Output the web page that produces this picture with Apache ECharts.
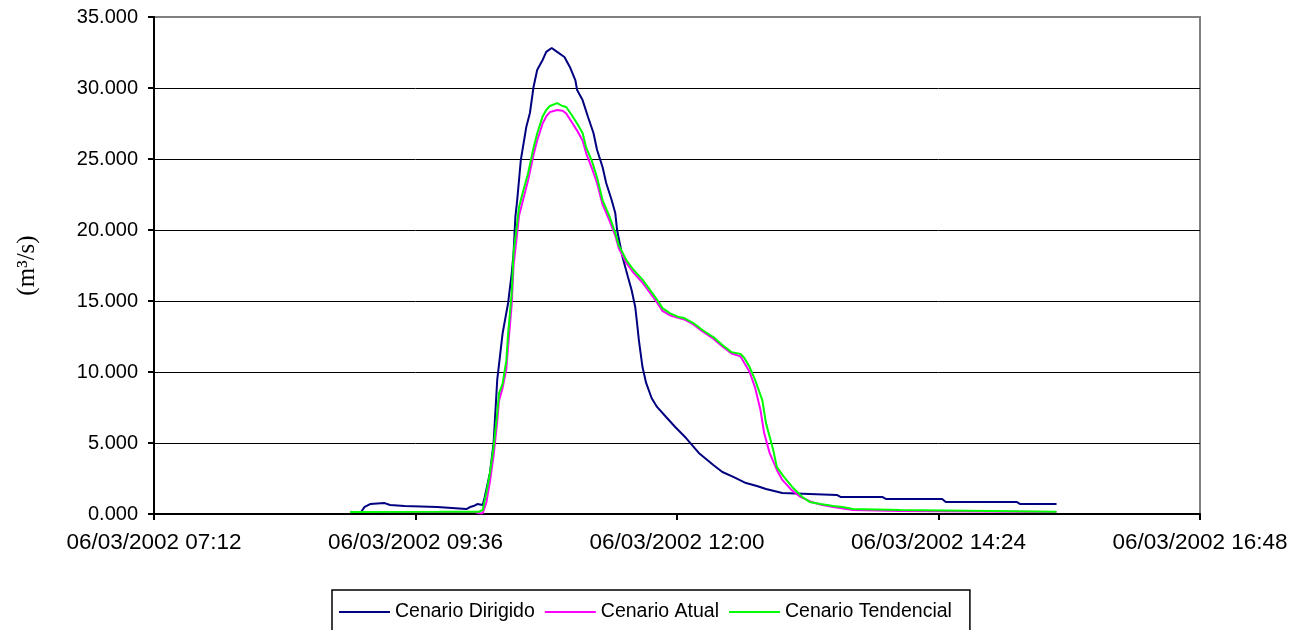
<!DOCTYPE html>
<html>
<head>
<meta charset="utf-8" />
<title>Vazões</title>
<script src="https://cdn.jsdelivr.net/npm/echarts@6/dist/echarts.min.js"></script>
<style>
  html, body { margin: 0; padding: 0; background: #fff; }
  #lineChart { width: 1298px; height: 630px; }
</style>
</head>
<body>
<div id="lineChart"></div>
<script>
// [hora, vazão]
const dirigido = [
  ["09:00", 0.14], ["09:06", 0.14], ["09:08", 0.5], ["09:11", 0.7], ["09:12", 0.77],
  ["09:19", 0.77], ["09:22", 0.63], ["09:30", 0.56], ["09:31", 0.49], ["09:48", 0.49],
  ["09:49", 0.35], ["10:04", 0.35], ["10:06", 0.49], ["10:08", 0.56], ["10:10", 0.7],
  ["10:11", 0.56], ["10:13", 0.63], ["10:14", 1.13], ["10:17", 2.89], ["10:19", 5.0],
  ["10:21", 9.44], ["10:24", 12.75], ["10:27", 14.86], ["10:29", 16.97], ["10:30", 18.38],
  ["10:31", 20.92], ["10:32", 22.11], ["10:34", 24.93], ["10:37", 27.25], ["10:39", 28.24],
  ["10:41", 30.07], ["10:43", 31.27], ["10:46", 31.97], ["10:48", 32.54], ["10:51", 32.82],
  ["10:54", 32.54], ["10:58", 32.18], ["11:01", 31.48], ["11:04", 30.56], ["11:05", 29.86],
  ["11:08", 29.15], ["11:11", 27.96], ["11:14", 26.83], ["11:16", 25.63], ["11:19", 24.44],
  ["11:21", 23.31], ["11:24", 22.11], ["11:26", 21.2], ["11:27", 20.0], ["11:30", 18.1],
  ["11:33", 16.69], ["11:35", 15.77], ["11:37", 14.58], ["11:38", 13.45], ["11:39", 12.25],
  ["11:41", 10.35], ["11:43", 9.23], ["11:46", 8.17], ["11:49", 7.54], ["11:54", 6.83],
  ["11:59", 6.13], ["12:05", 5.35], ["12:12", 4.3], ["12:20", 3.45], ["12:25", 2.96],
  ["12:31", 2.61], ["12:38", 2.18], ["12:44", 1.97], ["12:49", 1.76], ["12:58", 1.48],
  ["13:28", 1.34], ["13:30", 1.2], ["13:53", 1.2], ["13:55", 1.06], ["14:26", 1.06],
  ["14:28", 0.85], ["15:07", 0.85], ["15:09", 0.7], ["15:29", 0.7]
];

const atual = [
  ["09:00", 0.14], ["10:09", 0.14], ["10:11", 0.05], ["10:13", 0.05], ["10:14", 0.16],
  ["10:15", 0.8], ["10:17", 2.3], ["10:19", 4.1], ["10:21", 6.5], ["10:22", 8.0],
  ["10:24", 8.9], ["10:26", 10.2], ["10:27", 11.8], ["10:29", 14.8], ["10:30", 17.5],
  ["10:32", 19.8], ["10:33", 21.0], ["10:35", 22.0], ["10:38", 23.5], ["10:41", 25.3],
  ["10:43", 26.3], ["10:46", 27.5], ["10:48", 28.0], ["10:50", 28.3], ["10:54", 28.45],
  ["10:57", 28.4], ["10:59", 28.2], ["11:02", 27.6], ["11:05", 27.0], ["11:08", 26.3],
  ["11:10", 25.4], ["11:13", 24.4], ["11:16", 23.3], ["11:19", 21.8], ["11:23", 20.6],
  ["11:26", 19.6], ["11:28", 18.7], ["11:32", 17.7], ["11:36", 17.0], ["11:41", 16.3],
  ["11:45", 15.6], ["11:49", 14.9], ["11:52", 14.3], ["11:56", 14.0], ["12:01", 13.8],
  ["12:04", 13.7], ["12:09", 13.35], ["12:14", 12.85], ["12:20", 12.35], ["12:25", 11.8],
  ["12:30", 11.3], ["12:35", 11.1], ["12:36", 11.0], ["12:40", 10.0], ["12:43", 8.9],
  ["12:46", 7.3], ["12:48", 5.7], ["12:51", 4.3], ["12:55", 3.1], ["12:58", 2.4],
  ["13:03", 1.7], ["13:08", 1.2], ["13:14", 0.85], ["13:20", 0.63], ["13:26", 0.49],
  ["13:37", 0.28], ["14:03", 0.21], ["14:04", 0.14], ["15:29", 0.14]
];

const tendencial = [
  ["09:00", 0.14], ["09:49", 0.15], ["10:09", 0.16], ["10:10", 0.28], ["10:11", 0.16],
  ["10:13", 0.28], ["10:15", 1.48], ["10:17", 2.9], ["10:19", 4.7], ["10:21", 7.1],
  ["10:22", 8.5], ["10:24", 9.2], ["10:26", 10.8], ["10:27", 12.7], ["10:29", 15.6],
  ["10:30", 18.4], ["10:32", 20.5], ["10:33", 21.6], ["10:35", 22.6], ["10:38", 24.0],
  ["10:41", 25.8], ["10:43", 26.8], ["10:46", 28.0], ["10:48", 28.45], ["10:50", 28.73],
  ["10:54", 28.94], ["10:57", 28.73], ["10:59", 28.66], ["11:02", 28.1], ["11:05", 27.5],
  ["11:08", 26.83], ["11:10", 25.8], ["11:13", 24.9], ["11:16", 23.7], ["11:19", 22.1],
  ["11:23", 20.9], ["11:26", 19.8], ["11:28", 18.9], ["11:32", 17.9], ["11:36", 17.2],
  ["11:41", 16.5], ["11:45", 15.8], ["11:49", 15.1], ["11:52", 14.5], ["11:56", 14.15],
  ["12:01", 13.87], ["12:04", 13.8], ["12:09", 13.45], ["12:14", 12.96], ["12:20", 12.46],
  ["12:25", 11.9], ["12:30", 11.4], ["12:35", 11.27], ["12:37", 11.0], ["12:40", 10.35],
  ["12:43", 9.44], ["12:47", 8.0], ["12:49", 6.4], ["12:53", 4.5], ["12:55", 3.3],
  ["12:59", 2.6], ["13:04", 1.83], ["13:09", 1.2], ["13:13", 0.85], ["13:19", 0.7],
  ["13:26", 0.56], ["13:31", 0.49], ["13:37", 0.35], ["14:03", 0.28], ["14:04", 0.16],
  ["15:29", 0.16]
];

const dataDia = "06/03/2002";
// eixo x em minutos desde 00:00 (07:12 .. 16:48)
const xMin = 432, xMax = 1008, xStep = 144;

function toMin(h) {
  const p = h.split(":");
  return Number(p[0]) * 60 + Number(p[1]);
}
function pad(n) {
  return (n < 10 ? "0" : "") + n;
}
function serie(arr) {
  return arr.map(function (d) { return [toMin(d[0]), d[1]]; });
}

const chart = echarts.init(document.getElementById("lineChart"));
const option = {
  animation: false,
  textStyle: { fontFamily: "Liberation Sans, Arial, sans-serif", color: "#000" },
  grid: {
    left: 154, right: 98, top: 17, bottom: 116,
    show: true, borderColor: "#808080", borderWidth: 2
  },
  legend: {
    left: 332, top: 590,
    icon: "rect",
    itemWidth: 51, itemHeight: 2, itemGap: 10,
    padding: [12, 18, 14, 7],
    borderColor: "#000", borderWidth: 1.5,
    textStyle: { fontSize: 19.5, color: "#000" },
    data: ["Cenario Dirigido", "Cenario Atual", "Cenario Tendencial"]
  },
  xAxis: {
    type: "value",
    min: xMin, max: xMax, interval: xStep,
    axisLine: { lineStyle: { color: "#000", width: 2 } },
    axisTick: { show: true, length: 6, lineStyle: { color: "#000", width: 2 } },
    axisLabel: {
      fontSize: 22.5, color: "#000", margin: 17,
      formatter: function (v) {
        return dataDia + " " + pad(Math.floor(v / 60)) + ":" + pad(v % 60);
      }
    },
    splitLine: { show: false }
  },
  yAxis: {
    type: "value",
    min: 0, max: 35, interval: 5,
    name: "(m³/s)",
    nameLocation: "middle",
    nameGap: 114,
    nameRotate: 90,
    nameTextStyle: { fontFamily: "Liberation Serif, Times New Roman, serif", fontSize: 25, color: "#000" },
    axisLine: { show: true, lineStyle: { color: "#000", width: 2 } },
    axisTick: { show: true, length: 6, lineStyle: { color: "#000", width: 2 } },
    axisLabel: {
      fontSize: 20, color: "#000", margin: 16,
      formatter: function (v) { return v.toFixed(3); }
    },
    splitLine: {
      show: true,
      lineStyle: {
        color: ["#000", "#000", "#000", "#000", "#000", "#000", "#000", "#808080"],
        width: 1
      }
    }
  },
  series: [
    {
      name: "Cenario Dirigido", type: "line", symbol: "none",
      lineStyle: { color: "#000080", width: 2 }, itemStyle: { color: "#000080" },
      data: serie(dirigido)
    },
    {
      name: "Cenario Atual", type: "line", symbol: "none",
      lineStyle: { color: "#ff00ff", width: 2 }, itemStyle: { color: "#ff00ff" },
      data: serie(atual)
    },
    {
      name: "Cenario Tendencial", type: "line", symbol: "none",
      lineStyle: { color: "#00ff00", width: 2 }, itemStyle: { color: "#00ff00" },
      data: serie(tendencial)
    }
  ]
};
chart.setOption(option);
</script>
</body>
</html>
